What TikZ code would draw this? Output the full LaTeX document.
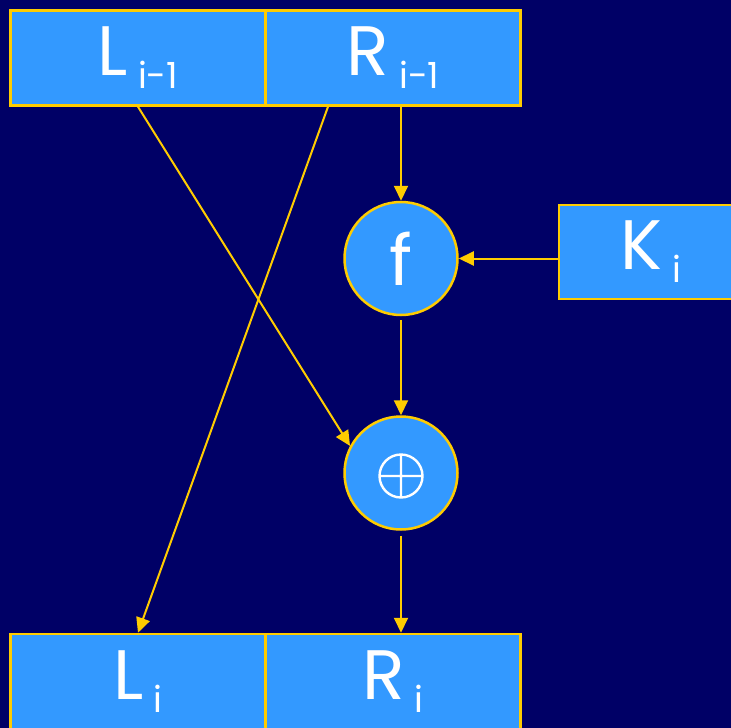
\documentclass[tikz,border=0pt]{standalone}
\usepackage{fontspec}
\setmainfont{Poppins}
\usetikzlibrary{arrows.meta,calc}
\definecolor{navy}{HTML}{000066}
\definecolor{cell}{HTML}{3399FF}
\definecolor{gold}{HTML}{FFCC00}
% letter with a lowered, smaller index
\newcommand{\halfname}[2]{#1\hspace{10pt}\raisebox{-13pt}{\fontsize{36}{36}\selectfont #2}}
\begin{document}
\begin{tikzpicture}[x=1pt,y=-1pt,
  cellbox/.style={draw=gold, line width=2.5pt, fill=cell, inner sep=0pt,
    minimum width=255pt, minimum height=95pt, text=white,
    font=\fontsize{70}{70}\selectfont},
  roundbox/.style={circle, draw=gold, line width=2.5pt, fill=cell, inner sep=0pt,
    minimum size=113pt, text=white, font=\fontsize{70}{70}\selectfont},
  flow/.style={draw=gold, line width=2pt, -{Triangle[length=15pt,width=14pt]}}]
\fill[navy] (0,0) rectangle (731,728);
\clip (0,0) rectangle (731,728);

% input halves
\node[cellbox] (Lp) at (138,58) {\halfname{L}{i-1}};
\node[cellbox] (Rp) at (393,58) {\halfname{R}{i-1}};
% round function and key
\node[roundbox] (f) at (401,258.5) {f};
\node[cellbox, minimum width=184pt, minimum height=94pt] (K) at (651,252) {\halfname{K}{i}};
% combining step
\node[roundbox] (x) at (401,473) {};
\draw[white, line width=2.4pt] ($(x.center)+(0,3)$) circle (21.5)
  ($(x.center)+(-21.5,3)$) -- ($(x.center)+(21.5,3)$)
  ($(x.center)+(0,-18.5)$) -- ($(x.center)+(0,24.5)$);
% output halves
\node[cellbox] (Li) at (138,681.5) {\halfname{L}{i}};
\node[cellbox] (Ri) at (393,681.5) {\halfname{R}{i}};

% connectors
\draw[flow] ([xshift=8pt]Rp.south) -- (f.north);
\draw[flow] (f.east -| K.west) -- (f.east);
\draw[flow, shorten <=4pt] (f.south) -- (x.north);
\draw[flow, shorten <=5pt] (x.south) -- (x.south |- Ri.north);
\draw[flow] (Lp.south) -- (x.152);
\draw[flow] ([xshift=-65pt]Rp.south) -- (Li.north);
\end{tikzpicture}
\end{document}
